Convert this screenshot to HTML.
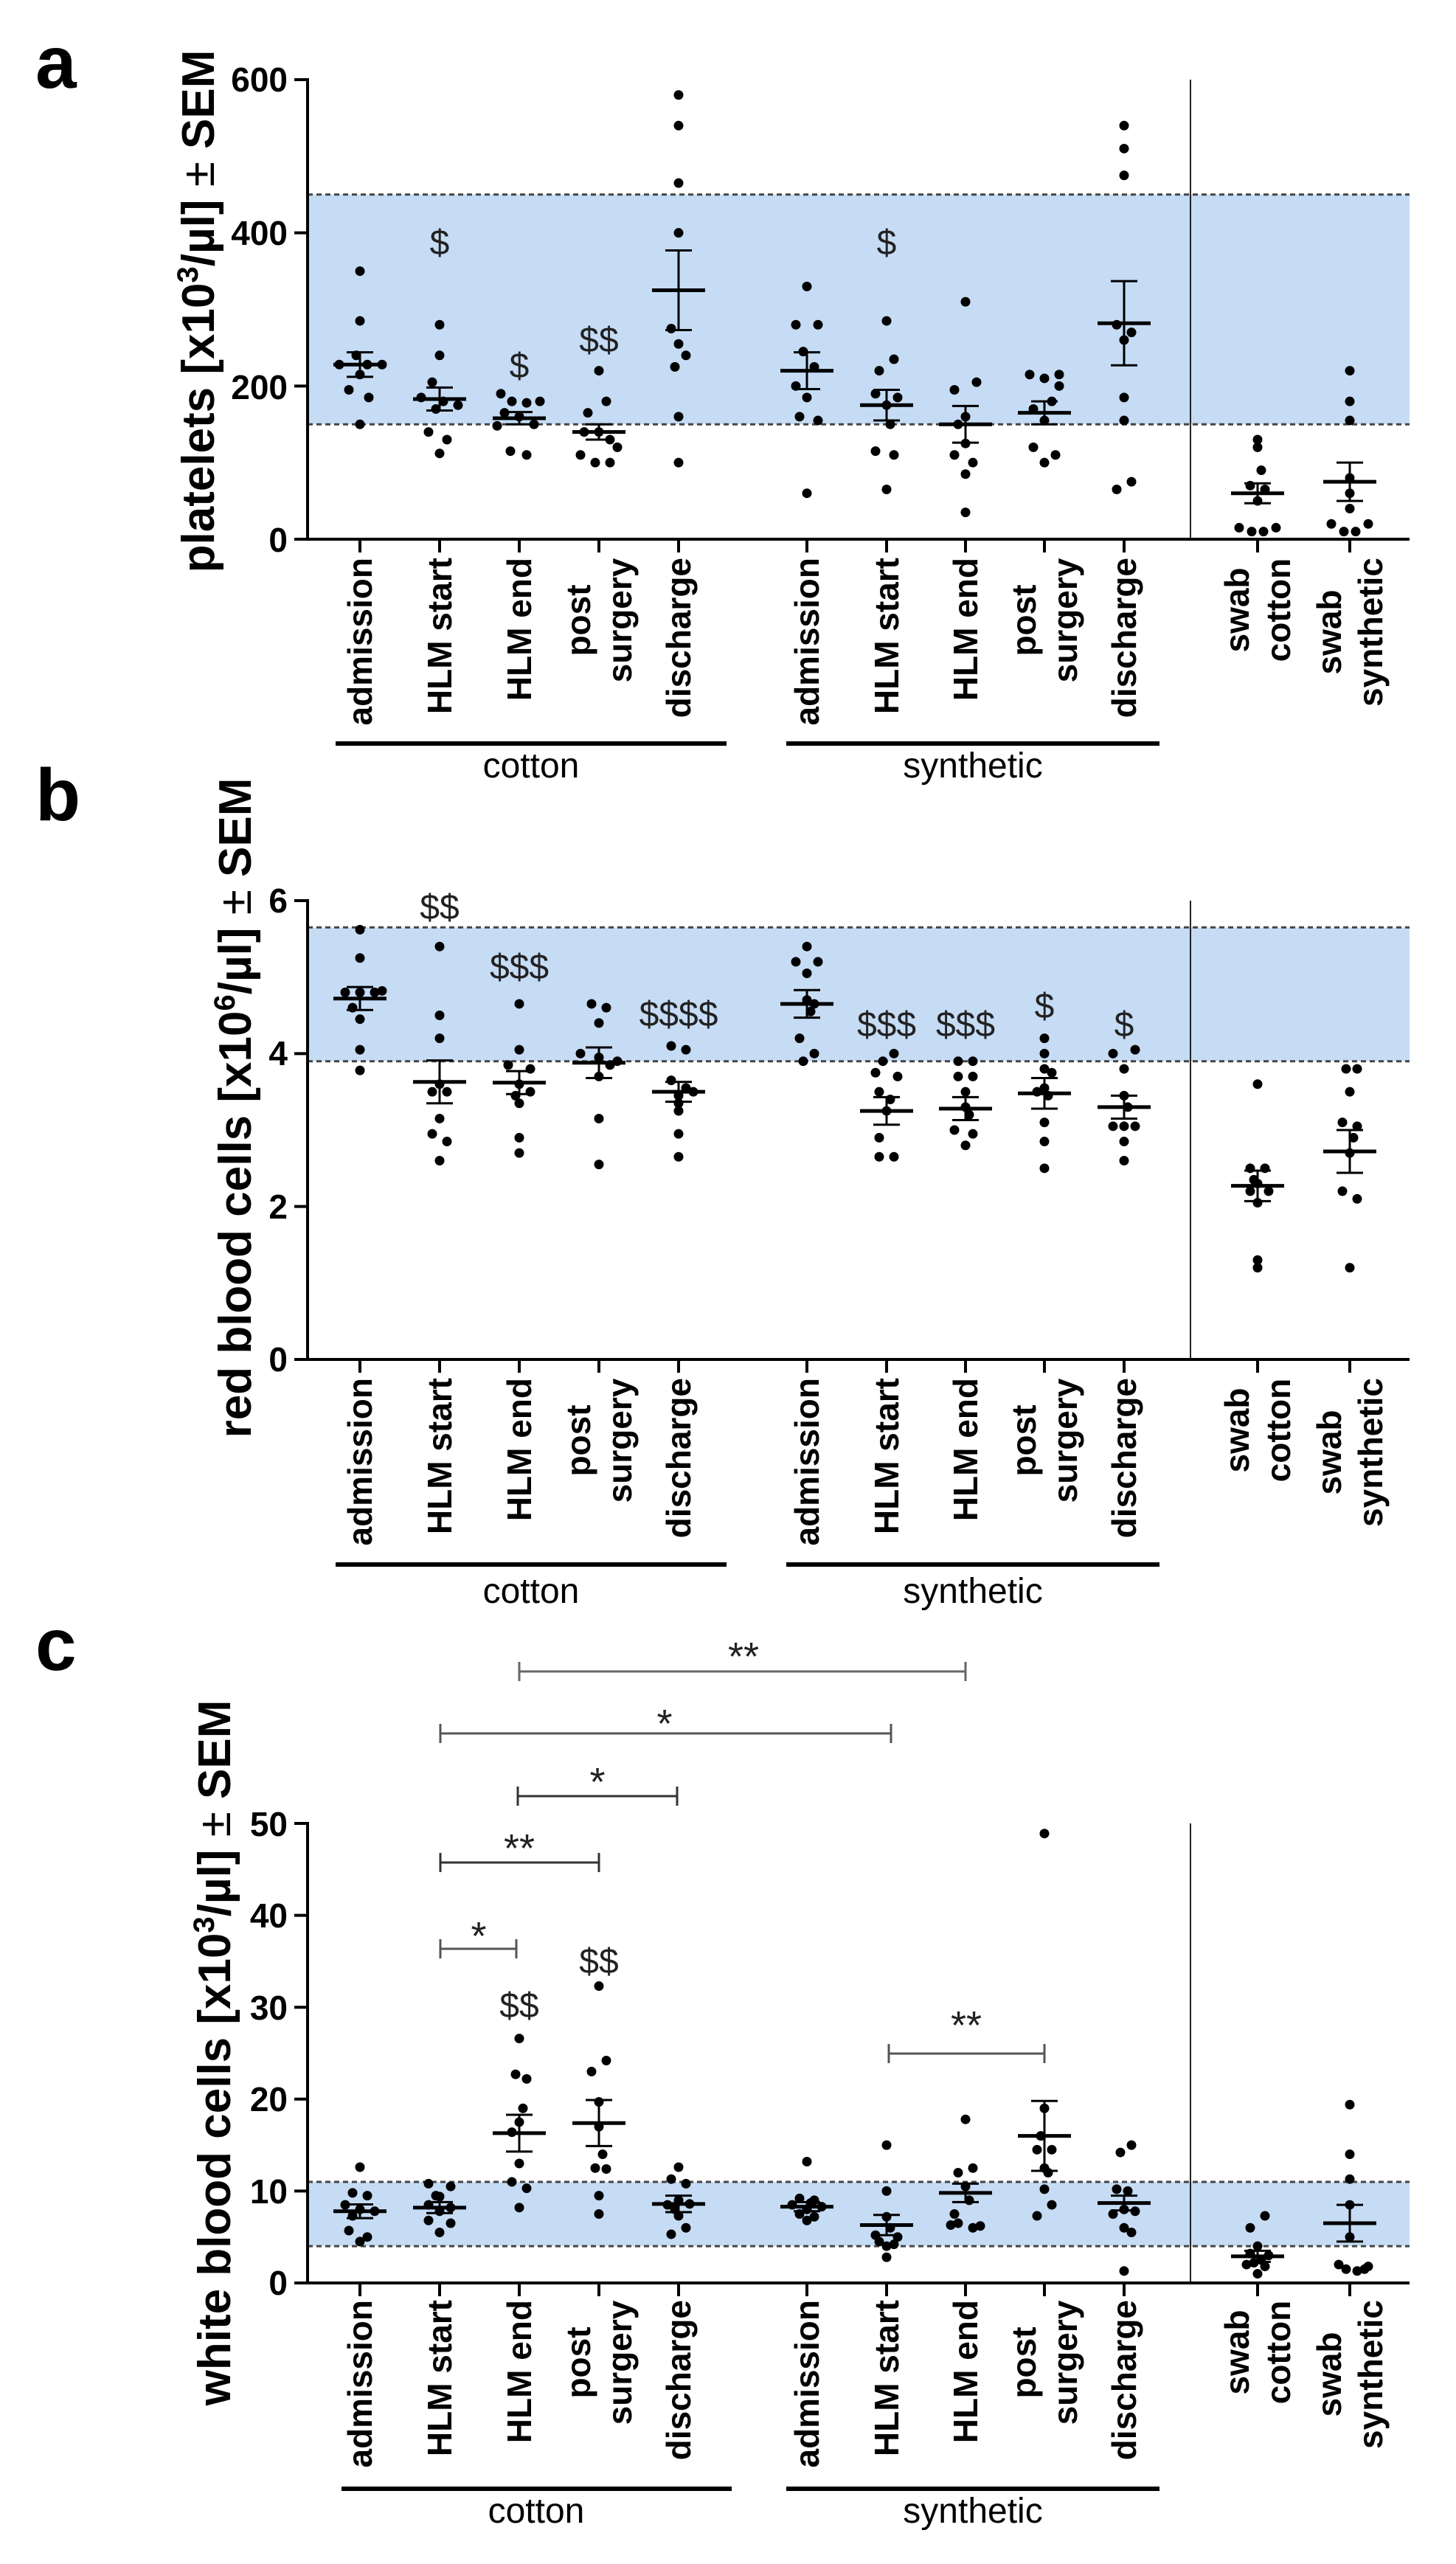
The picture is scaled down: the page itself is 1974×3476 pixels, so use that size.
<!DOCTYPE html>
<html><head><meta charset="utf-8"><style>
html,body{margin:0;padding:0;background:#fff;}
svg{display:block;}
.tk{font-family:"Liberation Sans",sans-serif;font-weight:bold;font-size:46px;text-anchor:end;}
.xl{font-family:"Liberation Sans",sans-serif;font-weight:bold;font-size:46px;}
.gr{font-family:"Liberation Sans",sans-serif;font-size:48px;text-anchor:middle;}
.yt{font-family:"Liberation Sans",sans-serif;font-weight:bold;font-size:62px;text-anchor:middle;}
.pl{font-family:"Liberation Sans",sans-serif;font-weight:bold;font-size:100px;}
.dl{font-family:"Liberation Sans",sans-serif;font-size:48px;text-anchor:middle;fill:#222;}
.st{font-family:"Liberation Sans",sans-serif;font-size:54px;text-anchor:middle;fill:#222;}
</style></head><body>
<svg id="s" width="1974" height="3476" viewBox="0 0 1974 3476" xmlns="http://www.w3.org/2000/svg">
<g id="g"></g>
<text class="pl" x="48" y="119">a</text>
<text class="pl" x="48" y="1112">b</text>
<text class="pl" x="48" y="2264">c</text>
<text class="yt" transform="translate(290,422) rotate(-90)">platelets [x10<tspan font-size="40" dy="-22">3</tspan><tspan dy="22">/µl] </tspan><tspan font-weight="normal">±</tspan> SEM</text>
<text class="yt" transform="translate(340,1502) rotate(-90)">red blood cells [x10<tspan font-size="40" dy="-22">6</tspan><tspan dy="22">/µl] </tspan><tspan font-weight="normal">±</tspan> SEM</text>
<text class="yt" transform="translate(312,2783) rotate(-90)">white blood cells [x10<tspan font-size="40" dy="-22">3</tspan><tspan dy="22">/µl] </tspan><tspan font-weight="normal">±</tspan> SEM</text>
<text class="tk" x="390" y="124">600</text><text class="tk" x="390" y="332">400</text><text class="tk" x="390" y="541">200</text><text class="tk" x="390" y="748">0</text>
<text class="tk" x="390" y="1237">6</text><text class="tk" x="390" y="1444">4</text><text class="tk" x="390" y="1652">2</text><text class="tk" x="390" y="1859">0</text>
<text class="tk" x="390" y="2489">50</text><text class="tk" x="390" y="2613">40</text><text class="tk" x="390" y="2738">30</text><text class="tk" x="390" y="2862">20</text><text class="tk" x="390" y="2987">10</text><text class="tk" x="390" y="3111">0</text>

<g class="xl">
<text text-anchor="end" transform="translate(504,756) rotate(-90)">admission</text>
<text text-anchor="end" transform="translate(612,756) rotate(-90)">HLM start</text>
<text text-anchor="end" transform="translate(720,756) rotate(-90)">HLM end</text>
<text text-anchor="middle" transform="translate(800,841) rotate(-90)">post</text>
<text text-anchor="middle" transform="translate(856,841) rotate(-90)">surgery</text>
<text text-anchor="end" transform="translate(936,756) rotate(-90)">discharge</text>
<text text-anchor="end" transform="translate(1110,756) rotate(-90)">admission</text>
<text text-anchor="end" transform="translate(1218,756) rotate(-90)">HLM start</text>
<text text-anchor="end" transform="translate(1325,756) rotate(-90)">HLM end</text>
<text text-anchor="middle" transform="translate(1404,841) rotate(-90)">post</text>
<text text-anchor="middle" transform="translate(1460,841) rotate(-90)">surgery</text>
<text text-anchor="end" transform="translate(1540,756) rotate(-90)">discharge</text>
<text text-anchor="middle" transform="translate(1693,827) rotate(-90)">swab</text>
<text text-anchor="middle" transform="translate(1749,827) rotate(-90)">cotton</text>
<text text-anchor="middle" transform="translate(1818,857) rotate(-90)">swab</text>
<text text-anchor="middle" transform="translate(1874,857) rotate(-90)">synthetic</text>
</g>
<g class="xl">
<text text-anchor="end" transform="translate(504,1868) rotate(-90)">admission</text>
<text text-anchor="end" transform="translate(612,1868) rotate(-90)">HLM start</text>
<text text-anchor="end" transform="translate(720,1868) rotate(-90)">HLM end</text>
<text text-anchor="middle" transform="translate(800,1953) rotate(-90)">post</text>
<text text-anchor="middle" transform="translate(856,1953) rotate(-90)">surgery</text>
<text text-anchor="end" transform="translate(936,1868) rotate(-90)">discharge</text>
<text text-anchor="end" transform="translate(1110,1868) rotate(-90)">admission</text>
<text text-anchor="end" transform="translate(1218,1868) rotate(-90)">HLM start</text>
<text text-anchor="end" transform="translate(1325,1868) rotate(-90)">HLM end</text>
<text text-anchor="middle" transform="translate(1404,1953) rotate(-90)">post</text>
<text text-anchor="middle" transform="translate(1460,1953) rotate(-90)">surgery</text>
<text text-anchor="end" transform="translate(1540,1868) rotate(-90)">discharge</text>
<text text-anchor="middle" transform="translate(1693,1939) rotate(-90)">swab</text>
<text text-anchor="middle" transform="translate(1749,1939) rotate(-90)">cotton</text>
<text text-anchor="middle" transform="translate(1818,1969) rotate(-90)">swab</text>
<text text-anchor="middle" transform="translate(1874,1969) rotate(-90)">synthetic</text>
</g>
<g class="xl">
<text text-anchor="end" transform="translate(504,3118) rotate(-90)">admission</text>
<text text-anchor="end" transform="translate(612,3118) rotate(-90)">HLM start</text>
<text text-anchor="end" transform="translate(720,3118) rotate(-90)">HLM end</text>
<text text-anchor="middle" transform="translate(800,3203) rotate(-90)">post</text>
<text text-anchor="middle" transform="translate(856,3203) rotate(-90)">surgery</text>
<text text-anchor="end" transform="translate(936,3118) rotate(-90)">discharge</text>
<text text-anchor="end" transform="translate(1110,3118) rotate(-90)">admission</text>
<text text-anchor="end" transform="translate(1218,3118) rotate(-90)">HLM start</text>
<text text-anchor="end" transform="translate(1325,3118) rotate(-90)">HLM end</text>
<text text-anchor="middle" transform="translate(1404,3203) rotate(-90)">post</text>
<text text-anchor="middle" transform="translate(1460,3203) rotate(-90)">surgery</text>
<text text-anchor="end" transform="translate(1540,3118) rotate(-90)">discharge</text>
<text text-anchor="middle" transform="translate(1693,3189) rotate(-90)">swab</text>
<text text-anchor="middle" transform="translate(1749,3189) rotate(-90)">cotton</text>
<text text-anchor="middle" transform="translate(1818,3219) rotate(-90)">swab</text>
<text text-anchor="middle" transform="translate(1874,3219) rotate(-90)">synthetic</text>
</g>
<text class="gr" x="720" y="1054">cotton</text><text class="gr" x="1319" y="1054">synthetic</text>
<text class="gr" x="720" y="2173">cotton</text><text class="gr" x="1319" y="2173">synthetic</text>
<text class="gr" x="727" y="3420">cotton</text><text class="gr" x="1319" y="3420">synthetic</text>
<text class="dl" x="596" y="345">$</text>
<text class="dl" x="704" y="512">$</text>
<text class="dl" x="812" y="477">$$</text>
<text class="dl" x="1202" y="345">$</text>
<text class="dl" x="596" y="1246">$$</text>
<text class="dl" x="704" y="1327">$$$</text>
<text class="dl" x="920" y="1391">$$$$</text>
<text class="dl" x="1202" y="1405">$$$</text>
<text class="dl" x="1309" y="1405">$$$</text>
<text class="dl" x="1416" y="1380">$</text>
<text class="dl" x="1524" y="1405">$</text>
<text class="dl" x="704" y="2735">$$</text>
<text class="dl" x="812" y="2675">$$</text>
<text class="st" x="1008" y="2264">**</text>
<text class="st" x="901" y="2355">*</text>
<text class="st" x="810" y="2434">*</text>
<text class="st" x="704" y="2524">**</text>
<text class="st" x="649" y="2643">*</text>
<text class="st" x="1310" y="2764">**</text>
</svg>
<script>
var g=document.getElementById('g');var NS='http://www.w3.org/2000/svg';
function el(t,a){var e=document.createElementNS(NS,t);for(var k in a)e.setAttribute(k,a[k]);g.appendChild(e);return e;}
function line(x1,y1,x2,y2,w,c,extra){var a={x1:x1,y1:y1,x2:x2,y2:y2,stroke:c||'#000','stroke-width':w};if(extra)for(var k in extra)a[k]=extra[k];return el('line',a);}
var X=[488,596,704,812,920,1094,1202,1309,1416,1524,1705,1830];
var X0=417,X1=1911,DIV=1614;
function panel(P){
  var Y=function(v){return P.y0-(P.y0-P.yTop)*v/P.vmax;};
  el('rect',{x:X0,y:Y(P.band[1]),width:X1-X0,height:Y(P.band[0])-Y(P.band[1]),fill:'#c6dcf5'});
  [P.band[0],P.band[1]].forEach(function(v){line(X0,Y(v),X1,Y(v),3,'#444',{'stroke-dasharray':'7 5'});});
  line(DIV,P.yTop,DIV,P.y0,2,'#222');
  line(X0,P.yTop-2,X0,P.y0+2,4);
  line(X0-2,P.y0,X1,P.y0,4);
  P.ticks.forEach(function(v){line(X0-18,Y(v),X0,Y(v),4);});
  X.forEach(function(x){line(x,P.y0,x,P.y0+18,4);});
  P.data.forEach(function(d,i){
    var x=X[i];
    d.p.forEach(function(p){el('circle',{cx:x+p[1],cy:Y(p[0]),r:6.5,fill:'#000'});});
    line(x-36,Y(d.m),x+36,Y(d.m),5);
    line(x,Y(d.m-d.s),x,Y(d.m+d.s),3);
    line(x-18,Y(d.m+d.s),x+18,Y(d.m+d.s),3);
    line(x-18,Y(d.m-d.s),x+18,Y(d.m-d.s),3);
  });
}
panel({yTop:108,y0:731,vmax:600,band:[150,450],ticks:[0,200,400,600],data:[
{m:228,s:16,p:[[350,0],[285,0],[240,-5],[228,-28],[228,10],[228,30],[215,0],[195,-15],[185,12],[150,0]]},
{m:183,s:15,p:[[280,0],[240,0],[205,-10],[185,-25],[180,5],[175,25],[170,-5],[140,-15],[130,10],[112,0]]},
{m:158,s:8,p:[[190,-25],[180,-10],[178,10],[180,28],[165,-20],[160,0],[150,20],[148,-30],[115,-12],[110,10]]},
{m:140,s:10,p:[[220,0],[180,10],[165,-15],[140,-20],[140,0],[130,15],[110,-25],[100,-5],[100,15],[120,25]]},
{m:325,s:52,p:[[580,0],[540,0],[465,0],[400,0],[275,-10],[255,0],[240,10],[225,-5],[160,0],[100,0]]},
{m:220,s:24,p:[[330,0],[280,-15],[280,15],[245,-5],[225,10],[200,-15],[185,0],[160,-10],[155,15],[60,0]]},
{m:175,s:20,p:[[285,0],[235,10],[220,-10],[190,-15],[185,15],[175,0],[115,-15],[110,10],[65,0],[150,5]]},
{m:150,s:24,p:[[310,0],[205,15],[195,-15],[160,0],[150,-10],[125,0],[110,-15],[100,10],[85,0],[35,0]]},
{m:165,s:15,p:[[215,-20],[210,0],[215,20],[200,20],[170,-15],[155,0],[120,-15],[110,15],[100,0],[180,10]]},
{m:282,s:55,p:[[540,0],[510,0],[475,0],[280,-10],[270,10],[260,0],[185,0],[155,0],[75,10],[65,-10]]},
{m:60,s:13,p:[[130,0],[120,0],[90,5],[70,-10],[65,10],[50,0],[15,-25],[10,-8],[10,8],[15,25]]},
{m:75,s:25,p:[[220,0],[180,0],[155,0],[80,0],[60,0],[20,-25],[10,-8],[10,8],[20,25],[40,0]]}]});
panel({yTop:1221,y0:1843,vmax:6,band:[3.9,5.65],ticks:[0,2,4,6],data:[
{m:4.72,s:.15,p:[[5.62,0],[5.25,0],[4.8,-20],[4.8,0],[4.8,20],[4.82,30],[4.45,0],[4.05,0],[3.78,0],[4.6,-10]]},
{m:3.63,s:.28,p:[[5.4,0],[4.5,0],[4.2,0],[3.6,0],[3.5,-10],[3.5,10],[3.15,0],[2.95,-10],[2.85,10],[2.6,0]]},
{m:3.62,s:.15,p:[[4.65,0],[4.05,0],[3.85,-15],[3.8,15],[3.6,0],[3.5,15],[3.45,-5],[3.35,0],[2.9,0],[2.7,0]]},
{m:3.88,s:.2,p:[[4.65,-10],[4.6,10],[4.4,0],[4.0,-25],[3.95,0],[3.9,25],[3.85,15],[3.7,0],[3.15,0],[2.55,0]]},
{m:3.5,s:.13,p:[[4.1,-10],[4.05,10],[3.65,-10],[3.55,10],[3.45,0],[3.5,20],[3.35,0],[2.95,0],[2.65,0],[3.25,0]]},
{m:4.65,s:.18,p:[[5.4,0],[5.2,-15],[5.2,15],[5.05,0],[4.7,0],[4.55,5],[4.2,-10],[4.0,10],[3.9,-5],[4.65,10]]},
{m:3.25,s:.18,p:[[4.0,10],[3.9,-5],[3.75,-15],[3.7,15],[3.5,-10],[3.25,0],[2.9,-10],[2.65,-10],[2.65,10],[3.4,5]]},
{m:3.28,s:.15,p:[[3.9,-10],[3.9,10],[3.7,-10],[3.7,10],[3.5,0],[3.3,0],[3.0,-15],[2.95,10],[2.8,0],[3.2,5]]},
{m:3.48,s:.2,p:[[4.2,0],[4.0,0],[3.8,0],[3.75,10],[3.55,0],[3.45,5],[3.1,0],[2.85,0],[2.5,0],[3.5,-10]]},
{m:3.3,s:.15,p:[[4.0,-15],[4.05,15],[3.8,0],[3.45,0],[3.05,-15],[3.05,0],[3.05,15],[2.85,0],[2.6,0],[3.3,5]]},
{m:2.27,s:.2,p:[[3.6,0],[2.5,-10],[2.5,10],[2.3,0],[2.2,-10],[2.2,15],[2.05,0],[1.3,0],[1.2,0],[2.35,-5]]},
{m:2.72,s:.28,p:[[3.8,-5],[3.8,10],[3.5,0],[3.1,-10],[3.05,10],[2.7,0],[2.2,-10],[2.1,10],[1.2,0],[2.9,5]]}]});
panel({yTop:2472,y0:3095,vmax:50,band:[4,11],ticks:[0,10,20,30,40,50],data:[
{m:7.8,s:.75,p:[[12.6,0],[9.8,-10],[9.5,10],[8.5,-20],[8,0],[7.8,20],[7.3,-10],[5.7,-15],[5,10],[4.5,0]]},
{m:8.2,s:.6,p:[[10.8,-15],[10.5,15],[9.4,0],[8.5,-15],[8.2,15],[7.8,0],[6.8,-15],[6.5,15],[5.5,0],[9.5,-5]]},
{m:16.3,s:2,p:[[26.6,0],[22.7,-5],[22.2,10],[17.5,0],[16.4,-10],[13,0],[11,-10],[10.3,10],[8.2,0],[19,5]]},
{m:17.4,s:2.5,p:[[32.3,0],[24.2,10],[23,-10],[19.7,0],[17,0],[12.5,-5],[12.4,10],[9.5,0],[7.5,0],[14,5]]},
{m:8.6,s:.9,p:[[12.6,0],[11.3,-10],[10.8,10],[9,0],[8.5,-15],[8.6,15],[7.3,0],[6,10],[5.3,-10],[8,-5]]},
{m:8.3,s:.5,p:[[13.2,0],[9.2,-10],[9,10],[8.5,-20],[8.3,20],[8,0],[7.5,-10],[7.2,10],[6.8,0],[8.7,5]]},
{m:6.3,s:1.1,p:[[15,0],[10,0],[7.2,0],[5.2,-15],[5,15],[4.5,-10],[4.2,10],[4,0],[2.8,0],[6,5]]},
{m:9.8,s:1,p:[[17.8,0],[12.5,10],[12,-10],[10.5,0],[9,5],[7.5,-15],[6.5,-10],[6,10],[6.2,20],[6.3,-20]]},
{m:16,s:3.8,p:[[48.9,0],[19,0],[14.5,-10],[14.5,10],[12.5,0],[10.2,0],[7.3,-10],[8.5,10],[12,5],[16,-5]]},
{m:8.7,s:.8,p:[[15,10],[14.2,-5],[10.2,-10],[10,5],[8,0],[7.8,15],[7.5,-15],[6,0],[5.5,10],[1.3,0]]},
{m:2.9,s:.6,p:[[7.3,10],[6,-10],[4,0],[3.2,-10],[3,15],[2.5,5],[2,-15],[1.8,10],[1,0],[2.2,-5]]},
{m:6.5,s:2,p:[[19.4,0],[14,0],[11.3,0],[8.5,0],[5,0],[2,-15],[1.5,-5],[1.3,10],[1.5,20],[1.8,25]]}]});
[[1008,455,985,1066,1572],[2121,455,985,1066,1572],[3374,463,992,1066,1572]].forEach(function(u){
  line(u[1],u[0],u[2],u[0],6);line(u[3],u[0],u[4],u[0],6);});
[[2266,704,1309,'#666'],[2350,597,1208,'#555'],[2435,702,918,'#333'],[2525,597,812,'#333'],[2642,597,700,'#555'],[2784,1205,1416,'#555']].forEach(function(b){
  line(b[1],b[0],b[2],b[0],3,b[3]);line(b[1],b[0]-13,b[1],b[0]+13,3,b[3]);line(b[2],b[0]-13,b[2],b[0]+13,3,b[3]);});
</script>
</body></html>
